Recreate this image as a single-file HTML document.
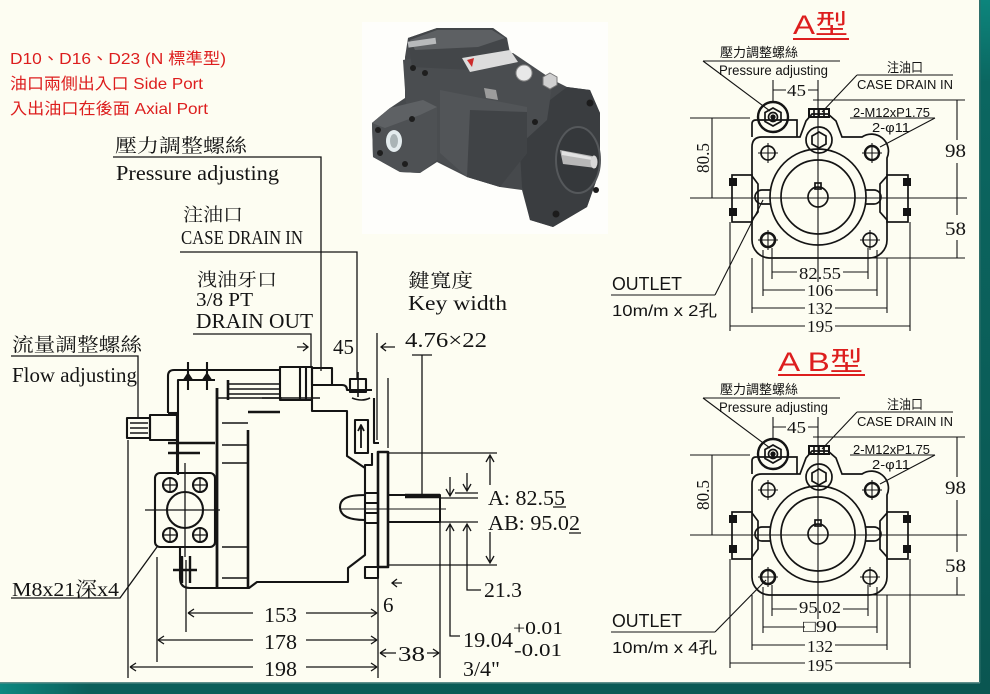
<!DOCTYPE html>
<html><head><meta charset="utf-8">
<style>
html,body{margin:0;padding:0;background:#fdfdf2;}
svg{display:block}
.s{font-family:"Liberation Serif","Noto Serif CJK SC",serif;fill:#141414}
.a{font-family:"Liberation Sans","Noto Sans CJK TC",sans-serif;fill:#141414}
.r{font-family:"Liberation Sans","Noto Sans CJK TC",sans-serif;fill:#dd1e1e}
</style></head><body>
<svg width="990" height="694" viewBox="0 0 990 694" xmlns="http://www.w3.org/2000/svg">
<defs>
 <linearGradient id="gr" x1="0" y1="0" x2="0" y2="1">
  <stop offset="0" stop-color="#0c857c"/><stop offset="0.12" stop-color="#0b6660"/><stop offset="1" stop-color="#0a5651"/>
 </linearGradient>
 <linearGradient id="gb" x1="0" y1="0" x2="1" y2="0">
  <stop offset="0" stop-color="#0d8880"/><stop offset="0.09" stop-color="#0b5f5a"/><stop offset="1" stop-color="#0a5651"/>
 </linearGradient>
 <g id="fv" fill="none" stroke="#141414" stroke-width="1.7">
  <path d="M762,137 L800,137 L806,121 L812,114 L828,114 L836,121 L842,137 L862,137 A17,17 0 0 1 887,158 L887,176 L880,184 L880,212 L887,220 L887,240 A18,18 0 0 1 869,258 L769,258 A18,18 0 0 1 752,240 L752,220 L758,212 L758,184 L752,176 L752,147 Q752,137 762,137Z"/>
  <path d="M752,137 L752,124 Q752,120 756,120 L797,120 L797,137"/>
  <circle cx="773" cy="117" r="15" stroke-width="2.4"/>
  <polygon points="773,108 781,112.5 781,121.5 773,126 765,121.5 765,112.5"/>
  <circle cx="773" cy="117" r="4.5"/>
  <circle cx="773" cy="117" r="1.8" fill="#141414"/>
  <rect x="809" y="109" width="20" height="8" stroke-width="2"/>
  <path d="M814,109 V117 M819,109 V117 M824,109 V117"/>
  <circle cx="819" cy="140" r="13"/>
  <polygon points="819,132 826,136 826,144 819,148 812,144 812,136"/>
  <circle cx="818" cy="197" r="48"/>
  <circle cx="818" cy="197" r="37"/>
  <circle cx="818" cy="197" r="10"/>
  <rect x="815" y="183" width="6" height="6"/>
  <circle cx="768" cy="153" r="7"/>
  <circle cx="872" cy="153" r="7" stroke-width="2.4"/>
  <circle cx="768" cy="240" r="7" stroke-width="2.6"/>
  <circle cx="870" cy="240" r="7"/>
  <path d="M758,153 H778 M768,143 V163 M862,153 H882 M872,143 V163 M758,240 H778 M768,230 V250 M860,240 H880 M870,230 V250" stroke-width="1.1"/>
  <rect x="732" y="175" width="20" height="47"/>
  <rect x="887" y="175" width="21" height="47"/>
  <g fill="#141414" stroke="none">
   <rect x="729" y="178" width="8" height="8"/><rect x="729" y="208" width="8" height="8"/>
   <rect x="903" y="178" width="8" height="8"/><rect x="903" y="208" width="8" height="8"/>
  </g>
  <path d="M770,190 L762,190 A7,7 0 0 0 762,204 L770,204"/>
  <path d="M866,190 L874,190 A7,7 0 0 1 874,204 L866,204"/>
  <g stroke-width="1.1">
   <path d="M690,198 H967"/>
   <path d="M818,80 V282"/>
   <path d="M813,100 H965 M867,258 H965"/>
   <path d="M957,100 V140 M957,163 V215 M957,240 V258"/>
   <path d="M690,118 H750 M712,118 V198"/>
   <path d="M773,80 V103 M773,90 H786 M808,90 H818"/>
   <path d="M703,61 H840 M703,61 L770,111"/>
   <path d="M857,75 H953 M857,75 L822,112"/>
   <path d="M850,118 H935 M935,118 L880,147"/>
   <path d="M772,248 V279 M868,248 V279 M772,272 H797 M843,272 H868"/>
   <path d="M763,250 V296 M877,250 V296 M763,290 H805 M835,290 H877"/>
   <path d="M752,258 V313 M887,258 V313 M752,308 H805 M835,308 H887"/>
   <path d="M730,222 V331 M910,222 V331 M730,326 H805 M835,326 H910"/>
   <path d="M611,295 H715"/>
  </g>
 </g>
</defs>
<rect width="990" height="694" fill="#fdfdf2"/>

<text class="r" x="10" y="64" font-size="16" textLength="216" lengthAdjust="spacingAndGlyphs">D10、D16、D23 (N 標準型)</text>
<text class="r" x="10" y="89" font-size="16" textLength="193" lengthAdjust="spacingAndGlyphs">油口兩側出入口 Side Port</text>
<text class="r" x="10" y="114" font-size="16" textLength="198" lengthAdjust="spacingAndGlyphs">入出油口在後面 Axial Port</text>

<!-- photo -->
<g>
 <rect x="362" y="22" width="246" height="212" fill="#fefefb"/>
 <polygon fill="#46494c" points="372,123 390,108 405,98 405,57 408,38 437,28 493,28 507,38 510,53 553,80 567,87 590,90 600,113 600,170 587,207 553,227 530,220 522,190 500,187 467,177 437,162 420,173 400,172 373,157"/>
 <polygon fill="#3a3d40" points="523,130 537,110 567,87 590,90 600,113 600,170 587,207 553,227 530,220 522,187 520,153"/>
 <polygon fill="#4a4d50" points="403,60 437,53 513,53 553,80 547,120 500,163 467,177 437,160 407,120"/>
 <polygon fill="#434649" points="408,38 437,28 493,28 507,38 508,57 470,70 412,67"/>
 <polygon fill="#5d6063" points="410,40 437,30 492,30 505,38 478,47 415,50"/>
 <polygon fill="#525558" points="440,90 527,107 527,153 500,187 467,177 440,153"/>
 <polygon fill="#404346" points="470,110 527,112 527,153 500,187 467,177"/>
 <polygon fill="#4e5154" points="372,123 390,108 423,100 437,107 437,160 420,173 400,172 373,157"/>
 <polygon fill="#5e6164" points="372,123 390,108 423,100 437,107 420,115 385,128"/>
 <ellipse cx="394" cy="141" rx="8" ry="11" fill="#e4ecee"/>
 <ellipse cx="394" cy="141" rx="4" ry="7" fill="#aab4b6"/>
 <circle cx="378" cy="130" r="3" fill="#1e1e1e"/><circle cx="380" cy="153" r="3" fill="#1e1e1e"/>
 <circle cx="405" cy="164" r="3" fill="#1e1e1e"/><circle cx="412" cy="119" r="3" fill="#1e1e1e"/>
 <circle cx="413" cy="68" r="3" fill="#1e1e1e"/><circle cx="425" cy="73" r="3" fill="#1e1e1e"/>
 <polygon fill="#dcdcdc" points="462,58 510,50 518,62 470,72"/>
 <polygon fill="#cc2a2a" points="467,60 474,58 472,67"/>
 <rect x="408" y="40" width="28" height="6" fill="#b8babc" transform="rotate(-8 420 43)"/>
 <circle cx="524" cy="73" r="8" fill="#e8e8e8" stroke="#8a8a8a"/>
 <polygon fill="#d0d0d0" stroke="#777" points="550,73 557,77 557,85 550,89 543,85 543,77"/>
 <polygon fill="#9c9c9c" points="484,88 496,90 498,100 486,98"/>
 <ellipse cx="578" cy="160" rx="22" ry="33" fill="#35383b" stroke="#55585b" stroke-width="2"/>
 <polygon fill="#b8b8b8" points="560,150 592,156 596,168 563,164"/>
 <polygon fill="#e2e2e2" points="562,151 591,157 592,160 562,155"/>
 <ellipse cx="594" cy="162" rx="3.5" ry="6.5" fill="#d8d8d8"/>
 <circle cx="590" cy="103" r="3.5" fill="#1c1c1c"/><circle cx="556" cy="214" r="3.5" fill="#1c1c1c"/>
 <circle cx="535" cy="122" r="3" fill="#1c1c1c"/><circle cx="596" cy="190" r="3" fill="#1c1c1c"/>
</g>

<g class="s">
 <text x="115" y="152" font-size="19" textLength="132" lengthAdjust="spacingAndGlyphs">壓力調整螺絲</text>
 <text x="116" y="180" font-size="21" textLength="163" lengthAdjust="spacingAndGlyphs">Pressure adjusting</text>
 <text x="183" y="221" font-size="18" textLength="60" lengthAdjust="spacingAndGlyphs">注油口</text>
 <text x="181" y="244" font-size="20" textLength="122" lengthAdjust="spacingAndGlyphs">CASE DRAIN IN</text>
 <text x="197" y="286" font-size="18" textLength="80" lengthAdjust="spacingAndGlyphs">洩油牙口</text>
 <text x="196" y="306" font-size="20" textLength="57" lengthAdjust="spacingAndGlyphs">3/8 PT</text>
 <text x="196" y="328" font-size="21" textLength="117" lengthAdjust="spacingAndGlyphs">DRAIN OUT</text>
 <text x="12" y="351" font-size="19" textLength="130" lengthAdjust="spacingAndGlyphs">流量調整螺絲</text>
 <text x="12" y="382" font-size="21" textLength="125" lengthAdjust="spacingAndGlyphs">Flow adjusting</text>
 <text x="12" y="596" font-size="20" textLength="107" lengthAdjust="spacingAndGlyphs">M8x21深x4</text>
 <text x="408" y="287" font-size="19" textLength="65" lengthAdjust="spacingAndGlyphs">鍵寬度</text>
 <text x="408" y="310" font-size="21" textLength="99" lengthAdjust="spacingAndGlyphs">Key  width</text>
 <text x="405" y="347" font-size="21" textLength="82" lengthAdjust="spacingAndGlyphs">4.76×22</text>
 <text x="333" y="354" font-size="21" textLength="21" lengthAdjust="spacingAndGlyphs">45</text>
 <text x="488" y="505" font-size="21" textLength="77" lengthAdjust="spacingAndGlyphs">A: 82.55</text>
 <text x="488" y="530" font-size="21" textLength="92" lengthAdjust="spacingAndGlyphs">AB: 95.02</text>
 <text x="484" y="597" font-size="21" textLength="38" lengthAdjust="spacingAndGlyphs">21.3</text>
 <text x="383" y="612" font-size="21">6</text>
 <text x="264" y="622" font-size="21" textLength="33" lengthAdjust="spacingAndGlyphs">153</text>
 <text x="264" y="649" font-size="21" textLength="33" lengthAdjust="spacingAndGlyphs">178</text>
 <text x="264" y="676" font-size="21" textLength="33" lengthAdjust="spacingAndGlyphs">198</text>
 <text x="398" y="661" font-size="21" textLength="27" lengthAdjust="spacingAndGlyphs">38</text>
 <text x="463" y="647" font-size="21" textLength="50" lengthAdjust="spacingAndGlyphs">19.04</text>
 <text x="513" y="634" font-size="18" textLength="50" lengthAdjust="spacingAndGlyphs">+0.01</text>
 <text x="514" y="656" font-size="18" textLength="48" lengthAdjust="spacingAndGlyphs">-0.01</text>
 <text x="463" y="676" font-size="21" textLength="37" lengthAdjust="spacingAndGlyphs">3/4"</text>
</g>

<g fill="none" stroke="#141414" stroke-width="1.3">
 <path d="M113,157 H321 V371"/>
 <path d="M180,252 H357 V380"/>
 <path d="M193,334 H311 V366"/>
 <path d="M297,347 H308 M303,343 L308,347 L303,351"/>
 <path d="M11,356 H138 V418"/>
 <path d="M11,598 H120 L157,547"/>
 <path d="M377,333 V440 M388,378 V448"/>
 <path d="M395,347 H381 M386,343 L381,347 L386,351"/>
 <path d="M412,355 H432 M422,355 V495"/>
 <path d="M388,453 H497 M388,565 H497"/>
 <path d="M490,485 V455 M486,462 L490,455 L494,462"/>
 <path d="M490,532 V563 M486,556 L490,563 L494,556"/>
 <path d="M440,498 H478 M455,493 H478"/>
 <path d="M450,477 V496 M446,489 L450,496 L454,489"/>
 <path d="M467,473 V491 M463,484 L467,491 L471,484"/>
 <path d="M440,522 H478"/>
 <path d="M450,524 V636 H460 M446,531 L450,524 L454,531"/>
 <path d="M467,524 V590 H481 M463,531 L467,524 L471,531"/>
 <path d="M553,507 H566 M569,533 H581"/>
 <path d="M440,522 V678"/>
 <path d="M378,567 V678"/>
 <path d="M402,583 H392 M397,579 L392,583 L397,587"/>
 <path d="M128,440 V678 M157,557 V662 M186,560 V632"/>
 <path d="M188,613 H253 M306,613 H377 M188,613 l6,-4 M188,613 l6,4 M377,613 l-6,-4 M377,613 l-6,4"/>
 <path d="M158,640 H253 M306,640 H377 M158,640 l6,-4 M158,640 l6,4 M377,640 l-6,-4 M377,640 l-6,4"/>
 <path d="M130,667 H253 M306,667 H377 M130,667 l6,-4 M130,667 l6,4 M377,667 l-6,-4 M377,667 l-6,4"/>
 <path d="M380,653 H396 M427,653 H439 M380,653 l6,-4 M380,653 l6,4 M439,653 l-6,-4 M439,653 l-6,4"/>
 <path d="M340,509 H446" stroke-width="1"/>
</g>

<g fill="none" stroke="#141414" stroke-width="2.1" stroke-linejoin="round">
 <path d="M168,413 L168,376 Q168,370 174,370 L280,370"/>
 <path d="M168,413 H178"/>
 <path d="M178,475 V380 H215"/>
 <path d="M217,388 V588" stroke-width="2.8"/>
 <path d="M188,362 V390 M207,362 V390"/>
 <path d="M184,380 L188,374 L192,380 Z M203,380 L207,374 L211,380 Z" fill="#141414"/>
 <path d="M227,384 H280 M227,389 H280 M227,394 H280 M217,398 H282" stroke-width="1.6"/>
 <path d="M228,380 V400" stroke-width="2.6"/>
 <rect x="280" y="367" width="32" height="33"/>
 <path d="M300,367 V400 M306,367 V400"/>
 <rect x="312" y="368" width="20" height="17"/>
 <path d="M312,385 H342 Q347,385 347,390 H372"/>
 <path d="M312,400 V411 H347 V456 L365,468"/>
 <rect x="350" y="379" width="16" height="13"/>
 <path d="M358,372 V397 M352,398 Q362,402 370,398" stroke-width="1.6"/>
 <path d="M374,398 V443 H379"/>
 <path d="M372,453 V465 H365 V495 C345,495 340,500 340,507 C340,514 345,520 365,520 V555 L348,568 V582 H257 L249,588 H190 Q180,588 180,578 V547"/>
 <path d="M177,413 V473"/>
 <rect x="355" y="420" width="13" height="33"/>
 <path d="M361,448 V427 M358,431 L361,425 L364,431" stroke-width="1.8"/>
 <rect x="378" y="452" width="10" height="115" stroke-width="2.6"/>
 <rect x="365" y="567" width="13" height="11"/>
 <rect x="365" y="493" width="13" height="30"/>
 <path d="M365,503 H378 M365,513 H378"/>
 <path d="M388,495 H440 V522 H388" stroke-width="2"/>
 <path d="M405,496 H440" stroke-width="4.5"/>
 <path d="M248,412 H280 M248,430 V588" stroke-width="2.6"/>
 <path d="M262,398 H320" stroke-width="1.4"/>
 <path d="M222,423 H248 M222,445 H248 M222,463 H248 M222,547 H248 M222,578 H248" stroke-width="1.6"/>
 <path d="M168,443 H215 M168,453 H200" stroke-width="2.6"/>
 <rect x="127" y="418" width="23" height="20"/>
 <path d="M130,423 H148 M130,428 H148 M130,433 H148" stroke-width="1.4"/>
 <rect x="150" y="415" width="27" height="25"/>
 <rect x="155" y="473" width="60" height="74" rx="5"/>
 <circle cx="185" cy="510" r="18"/>
 <circle cx="170" cy="485" r="7"/><circle cx="200" cy="485" r="7"/>
 <circle cx="170" cy="535" r="7"/><circle cx="200" cy="535" r="7"/>
 <path d="M145,510 H220 M185,463 V557 M162,485 H178 M170,477 V493 M192,485 H208 M200,477 V493 M162,535 H178 M170,527 V543 M192,535 H208 M200,527 V543" stroke-width="1.3"/>
 <path d="M173,570 H197 M182,556 V583 M190,556 V583" stroke-width="2.4"/>
</g>

<use href="#fv"/>
<use href="#fv" transform="translate(0,337)"/>
<path d="M715,295 L763,200" fill="none" stroke="#141414" stroke-width="1.1"/>
<path d="M715,632 L766,580" fill="none" stroke="#141414" stroke-width="1.1"/>

<text class="r" x="793" y="34" font-size="27" textLength="55" lengthAdjust="spacingAndGlyphs">A型</text>
<rect x="793" y="38" width="56" height="2" fill="#dd1e1e"/>
<text class="r" x="778" y="371" font-size="27" textLength="85" lengthAdjust="spacingAndGlyphs">A B型</text>
<rect x="778" y="374" width="87" height="2" fill="#dd1e1e"/>

<g>
 <text class="a" x="720" y="57" font-size="13" textLength="78" lengthAdjust="spacingAndGlyphs">壓力調整螺絲</text>
 <text class="a" x="719" y="75" font-size="13.5" textLength="109" lengthAdjust="spacingAndGlyphs">Pressure adjusting</text>
 <text class="s" x="787" y="96" font-size="17" textLength="19" lengthAdjust="spacingAndGlyphs">45</text>
 <text class="a" x="887" y="72" font-size="13" textLength="36" lengthAdjust="spacingAndGlyphs">注油口</text>
 <text class="a" x="857" y="89" font-size="13" textLength="96" lengthAdjust="spacingAndGlyphs">CASE DRAIN IN</text>
 <text class="a" x="853" y="117" font-size="12.5" textLength="77" lengthAdjust="spacingAndGlyphs">2-M12xP1.75</text>
 <text class="a" x="872" y="132" font-size="12.5" textLength="38" lengthAdjust="spacingAndGlyphs">2-φ11</text>
 <text class="s" x="945" y="157" font-size="19" textLength="21" lengthAdjust="spacingAndGlyphs">98</text>
 <text class="s" x="945" y="235" font-size="19" textLength="21" lengthAdjust="spacingAndGlyphs">58</text>
 <text class="s" font-size="18" transform="translate(712,158) rotate(-90)" x="-15" y="-3" textLength="30" lengthAdjust="spacingAndGlyphs">80.5</text>
 <text class="s" x="799" y="279" font-size="17" textLength="42" lengthAdjust="spacingAndGlyphs">82.55</text>
 <text class="s" x="807" y="296" font-size="17" textLength="26" lengthAdjust="spacingAndGlyphs">106</text>
 <text class="s" x="807" y="314" font-size="17" textLength="26" lengthAdjust="spacingAndGlyphs">132</text>
 <text class="s" x="807" y="332" font-size="17" textLength="26" lengthAdjust="spacingAndGlyphs">195</text>
 <text class="a" x="612" y="290" font-size="18" textLength="70" lengthAdjust="spacingAndGlyphs">OUTLET</text>
 <text class="a" x="612" y="316" font-size="16" textLength="105" lengthAdjust="spacingAndGlyphs">10m/m x 2孔</text>
</g>
<g transform="translate(0,337)">
 <text class="a" x="720" y="57" font-size="13" textLength="78" lengthAdjust="spacingAndGlyphs">壓力調整螺絲</text>
 <text class="a" x="719" y="75" font-size="13.5" textLength="109" lengthAdjust="spacingAndGlyphs">Pressure adjusting</text>
 <text class="s" x="787" y="96" font-size="17" textLength="19" lengthAdjust="spacingAndGlyphs">45</text>
 <text class="a" x="887" y="72" font-size="13" textLength="36" lengthAdjust="spacingAndGlyphs">注油口</text>
 <text class="a" x="857" y="89" font-size="13" textLength="96" lengthAdjust="spacingAndGlyphs">CASE DRAIN IN</text>
 <text class="a" x="853" y="117" font-size="12.5" textLength="77" lengthAdjust="spacingAndGlyphs">2-M12xP1.75</text>
 <text class="a" x="872" y="132" font-size="12.5" textLength="38" lengthAdjust="spacingAndGlyphs">2-φ11</text>
 <text class="s" x="945" y="157" font-size="19" textLength="21" lengthAdjust="spacingAndGlyphs">98</text>
 <text class="s" x="945" y="235" font-size="19" textLength="21" lengthAdjust="spacingAndGlyphs">58</text>
 <text class="s" font-size="18" transform="translate(712,158) rotate(-90)" x="-15" y="-3" textLength="30" lengthAdjust="spacingAndGlyphs">80.5</text>
 <text class="s" x="799" y="276" font-size="17" textLength="42" lengthAdjust="spacingAndGlyphs">95.02</text>
 <text class="s" x="803" y="295" font-size="17" textLength="34" lengthAdjust="spacingAndGlyphs">□90</text>
 <text class="s" x="807" y="315" font-size="17" textLength="26" lengthAdjust="spacingAndGlyphs">132</text>
 <text class="s" x="807" y="334" font-size="17" textLength="26" lengthAdjust="spacingAndGlyphs">195</text>
 <text class="a" x="612" y="290" font-size="18" textLength="70" lengthAdjust="spacingAndGlyphs">OUTLET</text>
 <text class="a" x="612" y="316" font-size="16" textLength="105" lengthAdjust="spacingAndGlyphs">10m/m x 4孔</text>
</g>

<rect x="980" y="0" width="10" height="694" fill="url(#gr)"/>
<rect x="979" y="0" width="1.5" height="683" fill="#2f6f6b"/>
<rect x="0" y="683" width="990" height="11" fill="url(#gb)"/>
<rect x="0" y="682" width="980" height="1.5" fill="#5f8f8b"/>
</svg>
</body></html>
